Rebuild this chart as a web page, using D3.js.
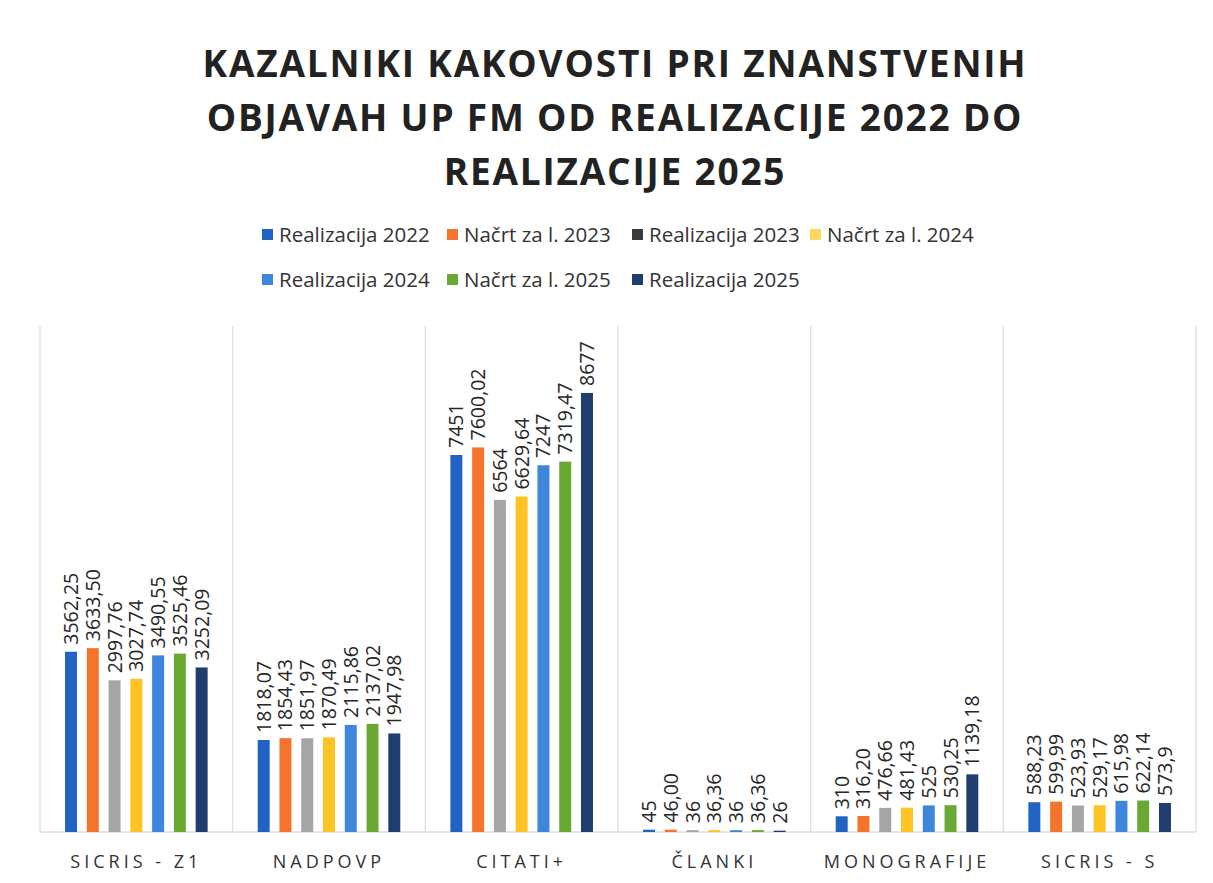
<!DOCTYPE html>
<html>
<head>
<meta charset="utf-8">
<script src="https://cdn.jsdelivr.net/npm/d3@7"></script>
<style>
  body { margin: 0; background: #fff; }
  svg text { font-family: "Open Sans", "Noto Sans", sans-serif; }
</style>
</head>
<body>
<div id="chart"></div>
<script>
// kategorije
var categories = ["SICRIS - Z1", "NADPOVP", "CITATI+", "ČLANKI", "MONOGRAFIJE", "SICRIS - S"];
var seriesNames = ["Realizacija 2022", "Načrt za l. 2023", "Realizacija 2023", "Načrt za l. 2024",
                   "Realizacija 2024", "Načrt za l. 2025", "Realizacija 2025"];

// vrednosti po serijah
var real2022 = [3562.25, 1818.07, 7451, 45, 310, 588.23];
var nacrt2023 = [3633.50, 1854.43, 7600.02, 46.00, 316.20, 599.99];
var real2023 = [2997.76, 1851.97, 6564, 36, 476.66, 523.93];
var nacrt2024 = [3027.74, 1870.49, 6629.64, 36.36, 481.43, 529.17];
var real2024 = [3490.55, 2115.86, 7247, 36, 525, 615.98];
var nacrt2025 = [3525.46, 2137.02, 7319.47, 36.36, 530.25, 622.14];
var real2025 = [3252.09, 1947.98, 8677, 26, 1139.18, 573.9];

// oznake kot na sliki
var lab2022 = ["3562,25", "1818,07", "7451", "45", "310", "588,23"];
var lab2023n = ["3633,50", "1854,43", "7600,02", "46,00", "316,20", "599,99"];
var lab2023 = ["2997,76", "1851,97", "6564", "36", "476,66", "523,93"];
var lab2024n = ["3027,74", "1870,49", "6629,64", "36,36", "481,43", "529,17"];
var lab2024 = ["3490,55", "2115,86", "7247", "36", "525", "615,98"];
var lab2025n = ["3525,46", "2137,02", "7319,47", "36,36", "530,25", "622,14"];
var lab2025 = ["3252,09", "1947,98", "8677", "26", "1139,18", "573,9"];

var allValues = [real2022, nacrt2023, real2023, nacrt2024, real2024, nacrt2025, real2025];
var allLabels = [lab2022, lab2023n, lab2023, lab2024n, lab2024, lab2025n, lab2025];

var colors = ["#2162c2", "#f4742b", "#a5a5a5", "#ffc423", "#3d86dc", "#6aa834", "#1f3e6f"];
var legendSwatch = ["#2162c2", "#f4742b", "#3a3a3a", "#ffd75e", "#3d86dc", "#6aa834", "#1f3e6f"];

var width = 1213, height = 883;
var svg = d3.select("#chart").append("svg")
    .attr("width", width)
    .attr("height", height);

// naslov
var titleLines = ["KAZALNIKI KAKOVOSTI PRI ZNANSTVENIH",
                  "OBJAVAH UP FM OD REALIZACIJE 2022 DO",
                  "REALIZACIJE 2025"];
svg.selectAll(".title")
    .data(titleLines)
    .enter()
    .append("text")
    .attr("class", "title")
    .attr("x", 615)
    .attr("y", function(d, i) { return 77 + i * 54; })
    .attr("text-anchor", "middle")
    .style("font-size", "37px")
    .style("font-weight", "bold")
    .style("letter-spacing", "1.8px")
    .style("fill", "#222")
    .text(function(d) { return d; });

// legenda
var legendPos = [
    [262, 235], [447, 235], [632, 235], [810, 235],
    [262, 280], [447, 280], [632, 280]
];
var legend = svg.selectAll(".legend")
    .data(seriesNames)
    .enter()
    .append("g")
    .attr("class", "legend")
    .attr("transform", function(d, i) { return "translate(" + legendPos[i][0] + "," + legendPos[i][1] + ")"; });

legend.append("rect")
    .attr("x", 0).attr("y", -6)
    .attr("width", 11).attr("height", 11)
    .attr("fill", function(d, i) { return legendSwatch[i]; });

legend.append("text")
    .attr("x", 17).attr("y", 7)
    .style("font-size", "20.5px")
    .style("fill", "#333")
    .text(function(d) { return d; });

// skale
var x0 = d3.scaleBand()
    .domain(categories)
    .range([40, 1196])
    .padding(0);

var x1 = d3.scaleBand()
    .domain(d3.range(seriesNames.length))
    .range([0, x0.bandwidth()])
    .paddingInner(0.45)
    .paddingOuter(1.15);

var y = d3.scaleLinear()
    .domain([0, 10000])
    .range([832, 326]);

// navpične ločnice
svg.selectAll(".sep")
    .data(d3.range(categories.length + 1))
    .enter()
    .append("line")
    .attr("x1", function(d) { return 40 + d * x0.bandwidth(); })
    .attr("x2", function(d) { return 40 + d * x0.bandwidth(); })
    .attr("y1", y(10000))
    .attr("y2", y(0))
    .attr("stroke", "#e2e2e2")
    .attr("stroke-width", 1.5);

svg.append("line")
    .attr("x1", 40).attr("x2", 1196)
    .attr("y1", y(0)).attr("y2", y(0))
    .attr("stroke", "#dcdcdc")
    .attr("stroke-width", 1.5);

// stolpci
var bars = [];
categories.forEach(function(c, ci) {
    allValues.forEach(function(vals, si) {
        bars.push({ cat: c, s: si, v: vals[ci], label: allLabels[si][ci] });
    });
});

svg.selectAll(".bar")
    .data(bars)
    .enter()
    .append("rect")
    .attr("class", "bar")
    .attr("x", function(d) { return x0(d.cat) + x1(d.s); })
    .attr("y", function(d) { return y(d.v); })
    .attr("width", x1.bandwidth())
    .attr("height", function(d) { return y(0) - y(d.v); })
    .attr("fill", function(d) { return colors[d.s]; });

// oznake vrednosti
svg.selectAll(".val")
    .data(bars)
    .enter()
    .append("text")
    .attr("class", "val")
    .attr("transform", function(d) {
        var cx = x0(d.cat) + x1(d.s) + x1.bandwidth() / 2 + 7;
        var cy = y(d.v) - 7;
        return "translate(" + cx + "," + cy + ") rotate(-90)";
    })
    .style("font-size", "19.5px")
    .style("fill", "#262626")
    .text(function(d) { return d.label; });

// kategorije na osi
svg.selectAll(".cat")
    .data(categories)
    .enter()
    .append("text")
    .attr("class", "cat")
    .attr("x", function(d) { return x0(d) + x0.bandwidth() / 2; })
    .attr("y", 868)
    .attr("text-anchor", "middle")
    .style("font-size", "18px")
    .style("letter-spacing", "4px")
    .style("fill", "#333")
    .text(function(d) { return d; });
</script>
</body>
</html>
